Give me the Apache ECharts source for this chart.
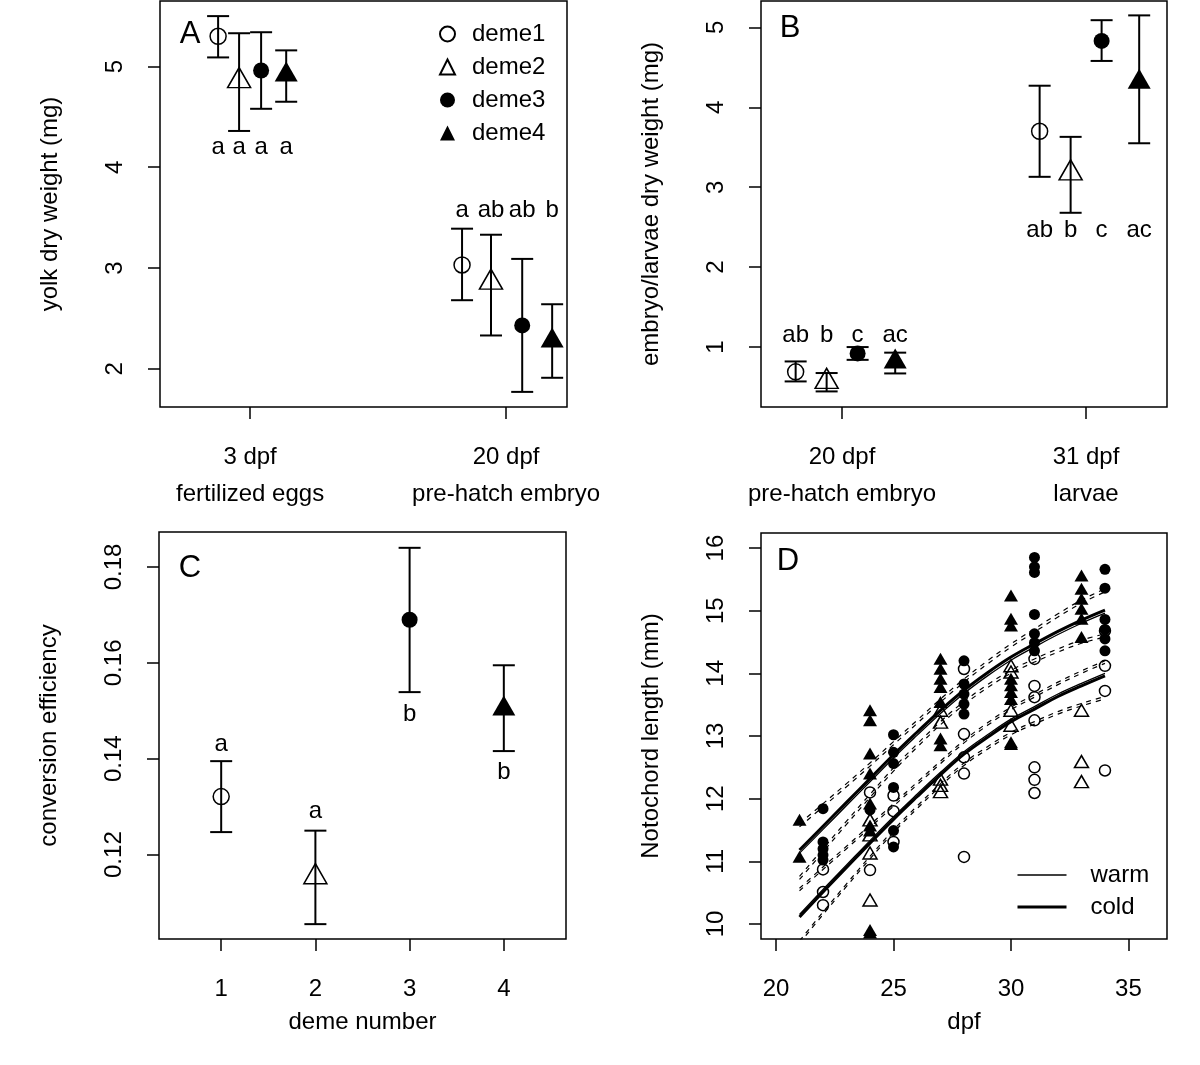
<!DOCTYPE html>
<html><head><meta charset="utf-8">
<script src="https://cdn.jsdelivr.net/npm/echarts@6/dist/echarts.min.js"></script>
<style>html,body{margin:0;padding:0;background:#fff}#c{width:1200px;height:1065px}</style>
</head><body><div id="c"></div>
<script>
// ================= DATA =================
// Panel A: yolk dry weight (mg), [group][deme]
const aCategories = ['3 dpf\nfertilized eggs', '20 dpf\npre-hatch embryo'];
const aMean = [[5.30, 4.86, 4.96, 4.92], [3.03, 2.86, 2.43, 2.28]];
const aLow  = [[5.09, 4.36, 4.58, 4.65], [2.68, 2.33, 1.77, 1.91]];
const aHigh = [[5.50, 5.33, 5.34, 5.16], [3.39, 3.33, 3.09, 2.64]];
const aLetters = [['a', 'a', 'a', 'a'], ['a', 'ab', 'ab', 'b']];
const aLetterY = [4.20, 3.57];

// Panel B: embryo/larvae dry weight (mg)
const bCategories = ['20 dpf\npre-hatch embryo', '31 dpf\nlarvae'];
const bMean = [[0.69, 0.57, 0.92, 0.82], [3.70, 3.18, 4.83, 4.32]];
const bLow  = [[0.57, 0.445, 0.84, 0.67], [3.13, 2.68, 4.58, 3.55]];
const bHigh = [[0.82, 0.675, 1.00, 0.93], [4.27, 3.63, 5.09, 5.15]];
const bLetters = [['ab', 'b', 'c', 'ac'], ['ab', 'b', 'c', 'ac']];
const bLetterY = [1.15, 2.46];

// Panel C: conversion efficiency per deme
const cDemes = [1, 2, 3, 4];
const cMean = [0.1321, 0.1154, 0.1690, 0.1505];
const cLow  = [0.1247, 0.1055, 0.1539, 0.1416];
const cHigh = [0.1395, 0.1250, 0.1840, 0.1595];
const cLetters = ['a', 'a', 'b', 'b'];
const cLetterY = [0.1429, 0.1290, 0.1493, 0.1372];

// Panel D: notochord length (mm) vs dpf, raw points per deme
const dDeme1 = [[22,10.87],[22,10.51],[22,10.30],[24,12.10],[24,10.86],[25,12.05],[25,11.80],[25,11.31],
  [28,14.07],[28,13.03],[28,12.66],[28,12.40],[28,11.07],
  [31,14.23],[31,13.80],[31,13.62],[31,13.25],[31,12.50],[31,12.30],[31,12.09],
  [34,14.68],[34,14.12],[34,13.72],[34,12.45]];
const dDeme2 = [[24,11.63],[24,11.39],[24,11.10],[24,10.35],
  [27,13.38],[27,13.19],[27,12.28],[27,12.18],[27,12.08],
  [30,14.09],[30,13.99],[30,13.38],[30,13.14],
  [33,13.38],[33,12.56],[33,12.24]];
const dDeme3 = [[22,11.84],[22,11.31],[22,11.20],[22,11.10],[22,11.02],[24,11.82],
  [25,13.02],[25,12.74],[25,12.56],[25,12.18],[25,11.49],[25,11.23],
  [28,14.20],[28,13.83],[28,13.67],[28,13.51],[28,13.35],
  [31,15.85],[31,15.70],[31,15.61],[31,14.94],[31,14.63],[31,14.49],[31,14.36],
  [34,15.66],[34,15.36],[34,14.86],[34,14.70],[34,14.55],[34,14.36]];
const dDeme4 = [[21,11.63],[21,11.04],
  [24,13.38],[24,13.22],[24,12.69],[24,12.37],[24,11.89],[24,11.54],[24,11.46],[24,9.87],[24,9.83],
  [27,14.20],[27,14.04],[27,13.88],[27,13.75],[27,13.51],[27,12.93],[27,12.82],
  [30,15.21],[30,14.84],[30,14.73],[30,13.88],[30,13.78],[30,13.67],[30,13.56],[30,12.87],[30,12.84],
  [33,15.53],[33,15.32],[33,15.16],[33,15.00],[33,14.84],[33,14.55]];

// Panel D fitted curves and confidence bands at each dpf
const dDays = [21, 22, 23, 24, 25, 26, 27, 28, 29, 30, 31, 32, 33, 34];
const dUpperCold = [11.18, 11.56, 11.94, 12.32, 12.70, 13.06, 13.41, 13.73, 14.01, 14.26, 14.47, 14.67, 14.85, 15.01];
const dUpperWarm = [11.13, 11.51, 11.89, 12.27, 12.65, 13.01, 13.36, 13.68, 13.96, 14.21, 14.42, 14.62, 14.80, 14.96];
const dLowerCold = [10.11, 10.51, 10.90, 11.29, 11.67, 12.03, 12.38, 12.71, 12.98, 13.23, 13.43, 13.63, 13.80, 13.96];
const dLowerWarm = [10.15, 10.55, 10.94, 11.33, 11.71, 12.07, 12.42, 12.75, 13.02, 13.27, 13.47, 13.67, 13.84, 14.00];
const dUpperCIHighCold = [11.60, 11.92, 12.24, 12.57, 12.91, 13.25, 13.59, 13.91, 14.20, 14.47, 14.71, 14.95, 15.17, 15.35];
const dUpperCIHighWarm = [11.55, 11.87, 12.19, 12.52, 12.86, 13.20, 13.54, 13.86, 14.15, 14.42, 14.66, 14.90, 15.12, 15.30];
const dUpperCILowCold  = [10.76, 11.20, 11.64, 12.07, 12.49, 12.87, 13.23, 13.55, 13.82, 14.05, 14.23, 14.39, 14.53, 14.63];
const dUpperCILowWarm  = [10.71, 11.15, 11.59, 12.02, 12.44, 12.82, 13.18, 13.50, 13.77, 14.00, 14.18, 14.34, 14.48, 14.58];
const dLowerCIHighCold = [10.53, 10.87, 11.20, 11.54, 11.88, 12.22, 12.56, 12.89, 13.17, 13.42, 13.62, 13.82, 14.00, 14.16];
const dLowerCIHighWarm = [10.57, 10.91, 11.24, 11.58, 11.92, 12.26, 12.60, 12.93, 13.21, 13.46, 13.66, 13.86, 14.04, 14.20];
const dLowerCILowCold  = [9.69, 10.15, 10.60, 11.04, 11.46, 11.84, 12.20, 12.53, 12.79, 13.02, 13.19, 13.35, 13.48, 13.59];
const dLowerCILowWarm  = [9.73, 10.19, 10.64, 11.08, 11.50, 11.88, 12.24, 12.57, 12.83, 13.06, 13.23, 13.39, 13.52, 13.63];

// tick values
const aYTicks = [2, 3, 4, 5];
const bYTicks = [1, 2, 3, 4, 5];
const cYTicks = [0.12, 0.14, 0.16, 0.18];
const dXTicks = [20, 25, 30, 35];
const dYTicks = [10, 11, 12, 13, 14, 15, 16];
const demeNames = ['deme1', 'deme2', 'deme3', 'deme4'];

// ================= STYLE / LAYOUT =================
const FONT = '"Liberation Sans", Arial, Helvetica, sans-serif';
const symbolType = ['circle', 'triangle', 'circle', 'triangle'];
const symbolFilled = [false, false, true, true];
const aDodge = [[-0.125, -0.043, 0.043, 0.141], [-0.172, -0.059, 0.063, 0.180]];
const bDodge = [-0.19, -0.063, 0.064, 0.218];

function symStyle(d, big) {
  const tri = symbolType[d] === 'triangle';
  return {
    symbol: symbolType[d],
    symbolSize: tri ? (big ? [23, 20] : [14, 12]) : (big ? 16 : 11),
    symbolOffset: tri ? [0, big ? -3 : -2] : [0, 0],
    itemStyle: {
      color: symbolFilled[d] ? '#000' : 'rgba(0,0,0,0)',
      borderColor: '#000',
      borderWidth: symbolFilled[d] ? 0 : 1.5,
      opacity: 1
    }
  };
}

function pointSeries(gi, name, data, d, big) {
  return Object.assign({
    type: 'scatter', name, xAxisIndex: gi, yAxisIndex: gi, data, z: 3,
    silent: true, emphasis: { disabled: true }
  }, symStyle(d, big));
}

function errSeries(gi, data) {
  return {
    type: 'custom', xAxisIndex: gi, yAxisIndex: gi, data, silent: true, z: 2,
    encode: { x: 0, y: [1, 2] },
    renderItem(params, api) {
      const x = api.value(0), lo = api.value(1), hi = api.value(2);
      const p1 = api.coord([x, lo]), p2 = api.coord([x, hi]);
      const s = { stroke: '#000', lineWidth: 2 };
      return { type: 'group', children: [
        { type: 'line', shape: { x1: p1[0], y1: p1[1], x2: p2[0], y2: p2[1] }, style: s },
        { type: 'line', shape: { x1: p1[0] - 11, y1: p1[1], x2: p1[0] + 11, y2: p1[1] }, style: s },
        { type: 'line', shape: { x1: p2[0] - 11, y1: p2[1], x2: p2[0] + 11, y2: p2[1] }, style: s }
      ] };
    }
  };
}

function textSeries(gi, pts, texts) {
  return {
    type: 'custom', xAxisIndex: gi, yAxisIndex: gi, data: pts, silent: true, z: 4,
    encode: { x: 0, y: 1 },
    renderItem(params, api) {
      const p = api.coord([api.value(0), api.value(1)]);
      return { type: 'text', x: p[0], y: p[1], style: {
        text: texts[params.dataIndex], fontSize: 24, fontFamily: FONT, fill: '#000',
        align: 'center', verticalAlign: 'middle' } };
    }
  };
}

const txt = { fontSize: 24, color: '#000', fontFamily: FONT };

function xAx(gi, min, max, ticks, fmt, name) {
  return {
    type: 'value', gridIndex: gi, min, max,
    splitLine: { show: false }, axisLine: { show: false },
    axisTick: { show: true, inside: false, length: 12, customValues: ticks, lineStyle: { color: '#000', width: 1.5 } },
    axisLabel: Object.assign({ customValues: ticks, formatter: fmt, margin: 32, lineHeight: 37 }, txt),
    name: name || '', nameLocation: 'middle', nameGap: 71, nameTextStyle: txt
  };
}
function yAx(gi, min, max, ticks, fmt, name) {
  return {
    type: 'value', gridIndex: gi, min, max,
    splitLine: { show: false }, axisLine: { show: false },
    axisTick: { show: true, inside: false, length: 12, customValues: ticks, lineStyle: { color: '#000', width: 1.5 } },
    axisLabel: Object.assign({ customValues: ticks, formatter: fmt, margin: 33, rotate: 90 }, txt),
    name, nameLocation: 'middle', nameGap: 98, nameRotate: 90, nameTextStyle: txt
  };
}

// ================= BUILD =================
const series = [];
// Panel A (grid 0)
for (let d = 0; d < 4; d++) {
  const pts = [], err = [];
  for (let g = 0; g < 2; g++) {
    const x = g + 1 + aDodge[g][d];
    pts.push([x, aMean[g][d]]);
    err.push([x, aLow[g][d], aHigh[g][d]]);
  }
  series.push(errSeries(0, err));
  series.push(pointSeries(0, demeNames[d], pts, d, true));
}
{
  const pts = [], t = [];
  for (let g = 0; g < 2; g++) for (let d = 0; d < 4; d++) { pts.push([g + 1 + aDodge[g][d], aLetterY[g]]); t.push(aLetters[g][d]); }
  series.push(textSeries(0, pts, t));
}
// Panel B (grid 1)
for (let d = 0; d < 4; d++) {
  const pts = [], err = [];
  for (let g = 0; g < 2; g++) {
    const x = g + 1 + bDodge[d];
    pts.push([x, bMean[g][d]]);
    err.push([x, bLow[g][d], bHigh[g][d]]);
  }
  series.push(errSeries(1, err));
  series.push(pointSeries(1, 'B' + demeNames[d], pts, d, true));
}
{
  const pts = [], t = [];
  for (let g = 0; g < 2; g++) for (let d = 0; d < 4; d++) { pts.push([g + 1 + bDodge[d], bLetterY[g]]); t.push(bLetters[g][d]); }
  series.push(textSeries(1, pts, t));
}
// Panel C (grid 2)
for (let d = 0; d < 4; d++) {
  series.push(errSeries(2, [[cDemes[d], cLow[d], cHigh[d]]]));
  series.push(pointSeries(2, 'C' + demeNames[d], [[cDemes[d], cMean[d]]], d, true));
}
series.push(textSeries(2, cDemes.map((x, i) => [x, cLetterY[i]]), cLetters));
// Panel D (grid 3)
[dDeme1, dDeme2, dDeme3, dDeme4].forEach((arr, d) => series.push(pointSeries(3, 'D' + demeNames[d], arr, d, false)));
function curve(name, ys, width, dashed) {
  return {
    type: 'line', name, xAxisIndex: 3, yAxisIndex: 3, data: dDays.map((x, i) => [x, ys[i]]),
    smooth: 0.4, symbol: 'none', showSymbol: false, silent: true, z: 5, clip: true,
    itemStyle: { color: '#000' },
    lineStyle: { color: '#000', width, type: dashed ? [5, 5] : 'solid' },
    emphasis: { disabled: true }
  };
}
series.push(curve('cold', dUpperCold, 3));
series.push(curve('warm', dUpperWarm, 1.3));
series.push(curve('cold', dLowerCold, 3));
series.push(curve('warm', dLowerWarm, 1.3));
[dUpperCIHighCold, dUpperCIHighWarm, dUpperCILowCold, dUpperCILowWarm,
 dLowerCIHighCold, dLowerCIHighWarm, dLowerCILowCold, dLowerCILowWarm].forEach((arr, i) =>
  series.push(curve('ci' + i, arr, 1.2, true)));

const gridStyle = { show: true, borderColor: '#000', borderWidth: 1.5, backgroundColor: 'transparent' };
const option = {
  animation: false,
  backgroundColor: '#fff',
  textStyle: { fontFamily: FONT },
  grid: [
    Object.assign({ left: 160, top: 1, width: 407, height: 406 }, gridStyle),
    Object.assign({ left: 761, top: 1, width: 406, height: 406 }, gridStyle),
    Object.assign({ left: 159, top: 532, width: 407, height: 407 }, gridStyle),
    Object.assign({ left: 761, top: 533, width: 406, height: 406 }, gridStyle)
  ],
  xAxis: [
    xAx(0, 0.648, 2.238, [1, 2], v => aCategories[Math.round(v) - 1] || ''),
    xAx(1, 0.668, 2.332, [1, 2], v => bCategories[Math.round(v) - 1] || ''),
    xAx(2, 0.34, 4.66, cDemes, v => String(v), 'deme number'),
    xAx(3, 19.36, 36.64, dXTicks, v => String(v), 'dpf')
  ],
  yAxis: [
    yAx(0, 1.62, 5.65, aYTicks, v => String(v), 'yolk dry weight (mg)'),
    yAx(1, 0.25, 5.33, bYTicks, v => String(v), 'embryo/larvae dry weight (mg)'),
    yAx(2, 0.1024, 0.1873, cYTicks, v => v.toFixed(2), 'conversion efficiency'),
    yAx(3, 9.76, 16.24, dYTicks, v => String(v), 'Notochord length (mm)')
  ],
  legend: [
    {
      data: demeNames, orient: 'vertical', left: 434, top: 17, itemWidth: 15, itemHeight: 15, itemGap: 9,
      selectedMode: false, textStyle: Object.assign({ lineHeight: 24, padding: [0, 0, 0, 12] }, txt)
    },
    {
      data: [{ name: 'warm', lineStyle: { width: 1.3, color: '#000' } }, { name: 'cold', lineStyle: { width: 3, color: '#000' } }],
      orient: 'vertical', left: 1011, top: 858, itemWidth: 49, itemHeight: 14, itemGap: 8,
      itemStyle: { opacity: 0 },
      selectedMode: false, textStyle: Object.assign({ lineHeight: 24, padding: [0, 0, 0, 19] }, txt)
    }
  ],
  graphic: [
    { type: 'text', x: 190, y: 34, style: { text: 'A', fontSize: 31, fontFamily: FONT, fill: '#000', align: 'center', verticalAlign: 'middle' } },
    { type: 'text', x: 790, y: 28, style: { text: 'B', fontSize: 31, fontFamily: FONT, fill: '#000', align: 'center', verticalAlign: 'middle' } },
    { type: 'text', x: 190, y: 568, style: { text: 'C', fontSize: 31, fontFamily: FONT, fill: '#000', align: 'center', verticalAlign: 'middle' } },
    { type: 'text', x: 788, y: 561, style: { text: 'D', fontSize: 31, fontFamily: FONT, fill: '#000', align: 'center', verticalAlign: 'middle' } }
  ],
  series
};
const chart = echarts.init(document.getElementById('c'), null, { renderer: 'canvas' });
chart.setOption(option);
</script></body></html>
